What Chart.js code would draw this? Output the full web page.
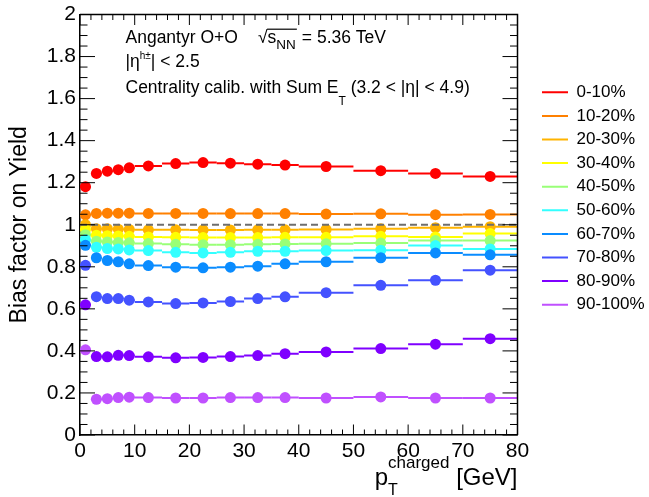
<!DOCTYPE html>
<html>
<head>
<meta charset="utf-8">
<script src="https://cdn.jsdelivr.net/npm/chart.js@4/dist/chart.umd.min.js"></script>
<style>
html,body{margin:0;padding:0;background:#ffffff;}
#wrap{width:649px;height:497px;}
</style>
</head>
<body>
<div id="wrap"><canvas id="c" width="649" height="497"></canvas></div>
<script>
// ---------------- data ----------------
const binCenters = [1, 3, 5, 7, 9, 12.5, 17.5, 22.5, 27.5, 32.5, 37.5, 45, 55, 65, 75];
const binLow     = [0, 2, 4, 6, 8, 10, 15, 20, 25, 30, 35, 40, 50, 60, 70];
const binHigh    = [2, 4, 6, 8, 10, 15, 20, 25, 30, 35, 40, 50, 60, 70, 80];

const centralityLabels = ['0-10%', '10-20%', '20-30%', '30-40%', '40-50%',
                          '50-60%', '60-70%', '70-80%', '80-90%', '90-100%'];

const bias_0_10   = [1.181, 1.244, 1.255, 1.262, 1.271, 1.280, 1.291, 1.296, 1.293, 1.288, 1.284, 1.277, 1.257, 1.244, 1.230];
const bias_10_20  = [1.047, 1.054, 1.055, 1.055, 1.055, 1.054, 1.054, 1.054, 1.053, 1.053, 1.053, 1.051, 1.052, 1.048, 1.049];
const bias_20_30  = [1.000, 0.981, 0.981, 0.979, 0.978, 0.976, 0.976, 0.975, 0.975, 0.976, 0.976, 0.978, 0.981, 0.986, 0.991];
const bias_30_40  = [0.978, 0.950, 0.948, 0.947, 0.945, 0.942, 0.940, 0.939, 0.939, 0.939, 0.940, 0.940, 0.945, 0.942, 0.958];
const bias_40_50  = [0.953, 0.922, 0.918, 0.916, 0.914, 0.911, 0.907, 0.905, 0.905, 0.907, 0.909, 0.910, 0.913, 0.925, 0.925];
const bias_50_60  = [0.929, 0.893, 0.887, 0.885, 0.880, 0.877, 0.869, 0.866, 0.869, 0.874, 0.874, 0.877, 0.879, 0.901, 0.885];
const bias_60_70  = [0.902, 0.843, 0.830, 0.824, 0.814, 0.806, 0.798, 0.795, 0.798, 0.803, 0.814, 0.824, 0.843, 0.866, 0.857];
const bias_70_80  = [0.807, 0.658, 0.649, 0.649, 0.641, 0.633, 0.625, 0.628, 0.635, 0.649, 0.657, 0.677, 0.712, 0.736, 0.784];
const bias_80_90  = [0.619, 0.373, 0.372, 0.379, 0.378, 0.372, 0.367, 0.369, 0.373, 0.378, 0.387, 0.395, 0.411, 0.432, 0.458];
const bias_90_100 = [0.405, 0.170, 0.173, 0.178, 0.180, 0.178, 0.176, 0.176, 0.178, 0.178, 0.178, 0.176, 0.181, 0.176, 0.176];

const seriesValues = [bias_0_10, bias_10_20, bias_20_30, bias_30_40, bias_40_50,
                      bias_50_60, bias_60_70, bias_70_80, bias_80_90, bias_90_100];

const referenceLevel = 1;
const xTickValues = [0, 10, 20, 30, 40, 50, 60, 70, 80];
const yTickValues = [0, 0.2, 0.4, 0.6, 0.8, 1, 1.2, 1.4, 1.6, 1.8, 2];

// ---------------- styles ----------------
const seriesColors = ['#ff0000', '#ff8000', '#ffb400', '#ffff00', '#99ff77',
                      '#33ffff', '#0a8cff', '#4452ff', '#7f00ff', '#c050ff'];
const FONT = '"Liberation Sans", Arial, Helvetica, sans-serif';

// ---------------- datasets ----------------
const datasets = seriesValues.map((vals, i) => ({
  type: 'scatter',
  label: centralityLabels[i],
  data: binCenters.map((x, j) => ({x: x, y: vals[j]})),
  xLow: binLow,
  xHigh: binHigh,
  backgroundColor: seriesColors[i],
  borderColor: seriesColors[i],
  borderWidth: 0,
  pointRadius: 5.5,
  pointHoverRadius: 5.5,
  showLine: false,
  order: -i
}));
datasets.push({
  type: 'line',
  label: 'unity',
  data: [{x: 0, y: referenceLevel}, {x: 80, y: referenceLevel}],
  borderColor: '#6e6e6e',
  borderWidth: 2,
  borderDash: [7, 4],
  pointRadius: 0,
  fill: false,
  order: -100
});

// ---------------- plugins ----------------
const errorBarPlugin = {
  id: 'xErrorBars',
  beforeDatasetDraw(chart, args) {
    const ds = chart.data.datasets[args.index];
    if (!ds.xLow) return;
    const xs = chart.scales.x, ys = chart.scales.y, ctx = chart.ctx;
    const a = chart.chartArea;
    ctx.save();
    ctx.beginPath();
    ctx.rect(a.left, a.top, a.right - a.left, a.bottom - a.top);
    ctx.clip();
    ctx.strokeStyle = ds.borderColor;
    ctx.lineWidth = 2;
    ds.data.forEach((p, j) => {
      const y = ys.getPixelForValue(p.y);
      ctx.beginPath();
      ctx.moveTo(xs.getPixelForValue(ds.xLow[j]), y);
      ctx.lineTo(xs.getPixelForValue(ds.xHigh[j]), y);
      ctx.stroke();
    });
    ctx.restore();
  }
};

const framePlugin = {
  id: 'frameTicks',
  afterDraw(chart) {
    const {ctx, chartArea: a} = chart;
    const xs = chart.scales.x, ys = chart.scales.y;
    ctx.save();
    ctx.strokeStyle = '#000';
    ctx.lineWidth = 1.5;
    ctx.beginPath();
    ctx.moveTo(a.left, a.top); ctx.lineTo(a.right, a.top); ctx.lineTo(a.right, a.bottom);
    ctx.stroke();
    ctx.lineWidth = 1;
    ctx.beginPath();
    for (let k = 0; k <= 40; k++) {
      const v = k * 0.05;
      const y = ys.getPixelForValue(v);
      const len = (k % 4 === 0) ? 15 : 7.5;
      ctx.moveTo(a.left, y); ctx.lineTo(a.left + len, y);
      ctx.moveTo(a.right, y); ctx.lineTo(a.right - len, y);
    }
    for (let k = 0; k <= 40; k++) {
      const v = k * 2;
      const x = xs.getPixelForValue(v);
      const len = (k % 5 === 0) ? 10.5 : 5.5;
      ctx.moveTo(x, a.bottom); ctx.lineTo(x, a.bottom - len);
      ctx.moveTo(x, a.top); ctx.lineTo(x, a.top + len);
    }
    ctx.stroke();
    ctx.restore();
  }
};

function runText(ctx, x, base, runs) {
  let cx = x;
  for (const r of runs) {
    ctx.font = r.size + 'px ' + FONT;
    ctx.fillText(r.t, cx, base + (r.dy || 0));
    cx += ctx.measureText(r.t).width;
  }
  return cx;
}

const textPlugin = {
  id: 'latexText',
  afterDraw(chart) {
    const ctx = chart.ctx;
    ctx.save();
    ctx.fillStyle = '#000';
    ctx.strokeStyle = '#000';
    ctx.textAlign = 'left';
    ctx.textBaseline = 'alphabetic';
    const x0 = 125.5;
    const fs = 17.5;
    // line 1
    runText(ctx, x0, 43, [{t: 'Angantyr O+O', size: fs}]);
    ctx.font = fs + 'px ' + FONT;
    ctx.fillText('\u221A', 258, 43);
    const xs = 258 + ctx.measureText('\u221A').width;
    const xe = runText(ctx, xs, 43, [{t: 's', size: fs}, {t: 'NN', size: 13.5, dy: 6}]);
    ctx.lineWidth = 1.2;
    ctx.beginPath();
    ctx.moveTo(xs - 0.5, 43 - 13.8);
    ctx.lineTo(xe + 1, 43 - 13.8);
    ctx.stroke();
    runText(ctx, xe + 6, 43, [{t: '= 5.36 TeV', size: fs}]);
    // line 2
    runText(ctx, x0, 67, [{t: '|\u03B7', size: fs}, {t: 'h\u00B1', size: 10, dy: -8}, {t: '| < 2.5', size: fs}]);
    // line 3
    runText(ctx, x0, 93, [{t: 'Centrality calib. with Sum E', size: fs}, {t: 'T', size: 12, dy: 12},
                          {t: ' (3.2 < |\u03B7| < 4.9)', size: fs}]);
    // x-axis title
    const a = chart.chartArea;
    ctx.font = '24px ' + FONT;
    const wp = ctx.measureText('p').width;
    const wg = ctx.measureText(' [GeV]').width;
    ctx.font = '17px ' + FONT;
    const wc = ctx.measureText('charged').width;
    ctx.font = '16px ' + FONT;
    const wt = ctx.measureText('T').width;
    const start = a.right - (wp + Math.max(wc, wt) + wg);
    const base = 485;
    ctx.font = '24px ' + FONT;
    ctx.fillText('p', start, base);
    ctx.font = '16px ' + FONT;
    ctx.fillText('T', start + wp, base + 10);
    ctx.font = '17px ' + FONT;
    ctx.fillText('charged', start + wp, base - 17);
    ctx.font = '24px ' + FONT;
    ctx.fillText(' [GeV]', start + wp + Math.max(wc, wt), base);
    ctx.restore();
  }
};

// ---------------- chart ----------------
new Chart(document.getElementById('c'), {
  data: {datasets: datasets},
  options: {
    responsive: false,
    animation: false,
    events: [],
    devicePixelRatio: 1,
    layout: {padding: {top: 12, left: 0, right: 0, bottom: 0}},
    plugins: {
      tooltip: {enabled: false},
      legend: {
        display: true,
        position: 'right',
        align: 'start',
        maxWidth: 113.6,
        title: {display: true, text: ' ', font: {size: 10, lineHeight: 1}, padding: {top: 55.2, bottom: 0, left: 0, right: 0}},
        labels: {
          boxWidth: 26,
          boxHeight: 2,
          padding: 6.6,
          color: '#000',
          font: {family: FONT, size: 17},
          generateLabels: () => centralityLabels.map((t, i) => ({
            text: t, fillStyle: seriesColors[i], strokeStyle: seriesColors[i], fontColor: '#000',
            lineWidth: 0, hidden: false, datasetIndex: i
          }))
        }
      }
    },
    scales: {
      x: {
        type: 'linear', position: 'bottom', min: 0, max: 80,
        afterBuildTicks: s => { s.ticks = xTickValues.map(v => ({value: v})); },
        ticks: {color: '#000', font: {family: FONT, size: 21, lineHeight: 1}, padding: 6, maxRotation: 0, autoSkip: false},
        grid: {display: false, drawTicks: false},
        border: {display: true, color: '#000', width: 1.5},
        afterFit: s => { s.height = 62; }
      },
      y: {
        type: 'linear', position: 'left', min: 0, max: 2,
        afterBuildTicks: s => { s.ticks = yTickValues.map(v => ({value: v})); },
        ticks: {color: '#000', font: {family: FONT, size: 21, lineHeight: 1}, padding: 4, autoSkip: false,
                callback: v => String(Math.round(v * 10) / 10)},
        grid: {display: false, drawTicks: false},
        border: {display: true, color: '#000', width: 1.5},
        title: {display: true, text: 'Bias factor on Yield', color: '#000',
                font: {family: FONT, size: 23, lineHeight: 1}, padding: {top: 8.5, bottom: 0}},
        afterFit: s => { s.width = 80; }
      },
      y2: {
        type: 'linear', position: 'right', min: 0, max: 1, display: true,
        ticks: {display: false},
        grid: {display: false, drawTicks: false},
        border: {display: false},
        afterFit: s => { s.width = 17.9; }
      }
    }
  },
  plugins: [errorBarPlugin, framePlugin, textPlugin]
});
</script>
</body>
</html>
